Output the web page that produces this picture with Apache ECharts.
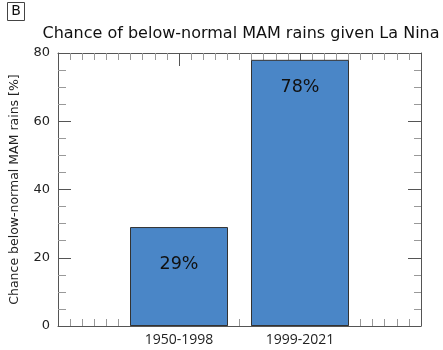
<!DOCTYPE html>
<html>
<head>
<meta charset="utf-8">
<script src="https://cdn.jsdelivr.net/npm/echarts@6/dist/echarts.min.js"></script>
<style>
  html, body { margin: 0; padding: 0; background: #fff; }
  #chart { width: 443px; height: 350px; }
</style>
</head>
<body>
<div id="chart"></div>
<script>
// data
const periods = ['1950-1998', '1999-2021'];
const periodPos = [1, 2];
const chance = [29, 78];
const yTicks = [0, 20, 40, 60, 80];

const axisCol = '#555';
const minorCol = '#999';
const barBlue = '#4a86c7';

const chart = echarts.init(document.getElementById('chart'));

const xLabel = v => {
  const i = periodPos.indexOf(v);
  return i >= 0 ? periods[i] : '';
};

// label offsets below bar tops (matches the original placement)
const labelDist = [28, 19];

chart.setOption({
  animation: false,
  title: {
    text: 'Chance of below-normal MAM rains given La Nina',
    left: 236, top: 21, textAlign: 'center',
    textStyle: { fontFamily: 'DejaVu Sans', fontSize: 16, fontWeight: 'normal', color: '#111' }
  },
  graphic: [
    { type: 'rect', shape: { x: 7.5, y: 2.5, width: 17, height: 18 },
      style: { fill: '#fff', stroke: '#444', lineWidth: 1 } },
    { type: 'text', x: 16, y: 11.5,
      style: { text: 'B', fontFamily: 'DejaVu Sans', fontSize: 14, fill: '#111', align: 'center', verticalAlign: 'middle' } }
  ],
  grid: { left: 55, right: 22, top: 53, bottom: 24 },
  xAxis: [
    {
      type: 'value', min: 0, max: 3, interval: 1, position: 'bottom',
      axisLine: { show: true, lineStyle: { color: axisCol, width: 1 } },
      axisTick: { show: true, inside: true, length: 13, lineStyle: { color: axisCol } },
      minorTick: { show: true, splitNumber: 10, length: 7, lineStyle: { color: minorCol } },
      splitLine: { show: false },
      axisLabel: { formatter: xLabel, margin: 7, fontFamily: 'Open Sans', fontSize: 14, color: '#222' }
    },
    {
      type: 'value', min: 0, max: 3, interval: 1, position: 'top',
      axisLine: { show: true, onZero: false, lineStyle: { color: axisCol, width: 1 } },
      axisTick: { show: true, inside: true, length: 13, lineStyle: { color: axisCol } },
      minorTick: { show: true, splitNumber: 10, length: 7, lineStyle: { color: minorCol } },
      splitLine: { show: false },
      axisLabel: { show: false }
    }
  ],
  yAxis: [
    {
      type: 'value', min: yTicks[0], max: yTicks[yTicks.length - 1], interval: 20,
      name: 'Chance below-normal MAM rains [%]',
      nameLocation: 'middle', nameGap: 37,
      nameTextStyle: { fontFamily: 'DejaVu Sans', fontSize: 12.5, color: '#222' },
      axisLine: { show: true, lineStyle: { color: axisCol, width: 1 } },
      axisTick: { show: true, inside: true, length: 13, lineStyle: { color: axisCol } },
      minorTick: { show: true, splitNumber: 4, length: 8, lineStyle: { color: minorCol } },
      splitLine: { show: false },
      axisLabel: { margin: 8, fontFamily: 'DejaVu Sans', fontSize: 13, color: '#222' }
    },
    {
      type: 'value', min: yTicks[0], max: yTicks[yTicks.length - 1], interval: 20, position: 'right',
      axisLine: { show: true, onZero: false, lineStyle: { color: axisCol, width: 1 } },
      axisTick: { show: true, inside: true, length: 13, lineStyle: { color: axisCol } },
      minorTick: { show: true, splitNumber: 4, length: 7, lineStyle: { color: minorCol } },
      splitLine: { show: false },
      axisLabel: { show: false }
    }
  ],
  series: [{
    type: 'bar',
    xAxisIndex: 0, yAxisIndex: 0,
    barWidth: 98,
    z: 1,
    itemStyle: { color: barBlue, borderColor: '#333', borderWidth: 1 },
    label: {
      show: true, position: 'insideTop',
      formatter: p => p.value[1] + '%',
      fontFamily: 'DejaVu Sans', fontSize: 17.5, color: '#111'
    },
    data: chance.map((v, i) => ({ value: [periodPos[i], v], label: { distance: labelDist[i] } }))
  }]
});
</script>
</body>
</html>
